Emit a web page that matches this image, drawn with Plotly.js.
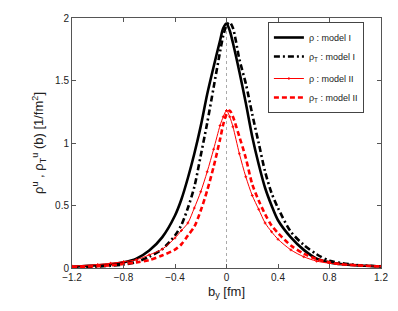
<!DOCTYPE html>
<html>
<head>
<meta charset="utf-8">
<script src="https://cdn.plot.ly/plotly-3.0.1.min.js"></script>
<style>html,body{margin:0;padding:0;background:#fff;}#chart{width:398px;height:311px;}</style>
</head>
<body>
<div id="chart"></div>
<script>
// impact parameter b_y [fm]
const bY = [-1.2,-1.0,-0.9,-0.8,-0.7,-0.6,-0.5,-0.4,-0.35,-0.3,-0.25,-0.2,-0.15,-0.1,-0.05,-0.025,0,0.025,0.05,0.1,0.15,0.2,0.25,0.3,0.35,0.4,0.5,0.6,0.7,0.8,0.9,1.0,1.2];
// rho : model I
const rhoModelI = [0.010,0.022,0.030,0.045,0.075,0.140,0.245,0.420,0.550,0.720,0.914,1.135,1.390,1.610,1.820,1.920,1.955,1.900,1.800,1.570,1.320,1.050,0.830,0.640,0.500,0.382,0.245,0.145,0.075,0.045,0.030,0.022,0.012];
// rho_T : model I
const rhoTModelI = [0.006,0.012,0.018,0.028,0.048,0.090,0.150,0.260,0.345,0.480,0.648,0.900,1.160,1.445,1.730,1.860,1.940,1.965,1.920,1.670,1.475,1.230,1.000,0.770,0.600,0.480,0.290,0.185,0.110,0.058,0.038,0.025,0.012];
// rho : model II
const rhoModelII = [0.015,0.028,0.038,0.050,0.066,0.105,0.150,0.240,0.300,0.360,0.480,0.610,0.770,0.950,1.140,1.210,1.260,1.210,1.130,0.914,0.730,0.580,0.470,0.360,0.290,0.230,0.145,0.090,0.055,0.038,0.028,0.022,0.014];
// rho_T : model II
const rhoTModelII = [0.008,0.015,0.022,0.032,0.045,0.064,0.100,0.147,0.190,0.260,0.330,0.460,0.620,0.810,1.030,1.150,1.230,1.260,1.210,1.050,0.880,0.670,0.540,0.430,0.340,0.280,0.180,0.115,0.072,0.045,0.030,0.022,0.012];

const xTicks = [-1.2,-0.8,-0.4,0,0.4,0.8,1.2];
const yTicks = [0,0.5,1,1.5,2];
const legendNames = ['ρ : model I','ρ<sub>T</sub> : model I','ρ : model II','ρ<sub>T</sub> : model II'];

const traces = [
  {x:bY, y:rhoModelI, name:legendNames[0], mode:'lines', legendgroup:'I',
   line:{color:'#000000', width:2.6, shape:'spline', smoothing:0.8}},
  {x:bY, y:rhoTModelI, name:legendNames[1], mode:'lines', legendgroup:'I',
   line:{color:'#000000', width:2.6, dash:'6px,3px,2px,3px', shape:'spline', smoothing:0.8}},
  {x:bY, y:rhoModelII, name:legendNames[2], mode:'lines+markers', legendgroup:'II',
   line:{color:'#ff0000', width:1, shape:'spline', smoothing:0.8},
   marker:{symbol:'cross-thin', size:2, color:'#ff0000', line:{color:'#ff0000', width:1}}},
  {x:bY, y:rhoTModelII, name:legendNames[3], mode:'lines', legendgroup:'II',
   line:{color:'#ff0000', width:2.6, dash:'5px,3px', shape:'spline', smoothing:0.8}}
];

const axisCommon = {
  showline:true, mirror:'ticks', linecolor:'#555555', linewidth:1,
  ticks:'inside', ticklen:4, tickcolor:'#555555', tickwidth:1,
  showgrid:false, zeroline:false,
  tickfont:{family:'Liberation Sans, Arial, sans-serif', size:10, color:'#222222'}
};

const layout = {
  width:398, height:311,
  margin:{l:72, r:17, t:18, b:43},
  paper_bgcolor:'#ffffff', plot_bgcolor:'#ffffff',
  font:{family:'Liberation Sans, Arial, sans-serif', color:'#222222'},
  xaxis:Object.assign({}, axisCommon, {
    range:[-1.2,1.2], tickvals:xTicks, ticktext:xTicks.map(v=>v===0?'0':String(v).replace('-','−')),
    title:{text:'b<sub>y</sub> [fm]', font:{size:13, color:'#222222'}, standoff:4}
  }),
  yaxis:Object.assign({}, axisCommon, {
    range:[0,2], tickvals:yTicks, ticktext:yTicks.map(String),
    title:{text:'ρ<sup>u</sup> , ρ<sub>T</sub><sup>u</sup> (b) [1/fm<sup>2</sup>]', font:{size:13, color:'#222222'}, standoff:8}
  }),
  shapes:[{type:'line', xref:'x', yref:'y', x0:0, x1:0, y0:0, y1:2,
           line:{color:'#aaaaaa', width:1, dash:'dot'}, layer:'below'}],
  showlegend:true,
  legend:{x:0.634, y:0.984, xanchor:'left', yanchor:'top',
          bgcolor:'#ffffff', bordercolor:'#444444', borderwidth:1,
          font:{size:9, color:'#222222'}, traceorder:'grouped', tracegroupgap:3,
          itemwidth:30}
};

Plotly.newPlot('chart', traces, layout, {displayModeBar:false, staticPlot:true});
</script>
</body>
</html>
